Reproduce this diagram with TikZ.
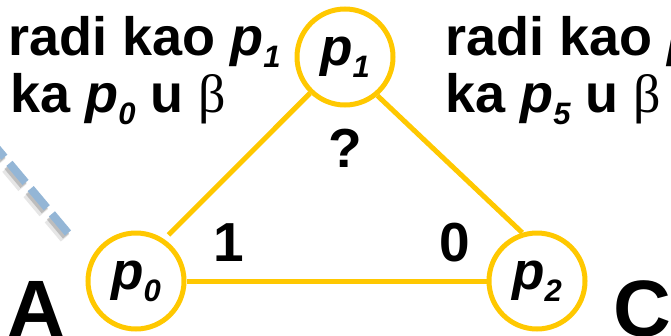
\documentclass[tikz,border=0pt]{standalone}
\usepackage{fontspec}
\setmainfont{Liberation Sans}
\newfontfamily\grckfont{Liberation Serif}
\usetikzlibrary{calc}
\definecolor{zuta}{RGB}{255,200,0}
\definecolor{plava}{RGB}{148,182,214}
\newcommand{\proc}[1]{\textit{p}\raisebox{-12pt}{\fontsize{31}{31}\selectfont\textit{#1}}}

\begin{document}
\begin{tikzpicture}[x=1pt,y=-1pt,
  proces/.style={circle,draw=zuta,line width=5pt,minimum size=96pt,inner sep=0pt,font=\fontsize{53}{53}\selectfont\bfseries},
  veza/.style={draw=zuta,line width=5pt},
  tekst/.style={anchor=base west,inner sep=0pt,font=\fontsize{54}{54}\selectfont\bfseries},
  oznaka/.style={inner sep=0pt,font=\fontsize{55}{55}\selectfont\bfseries},
  slovo/.style={anchor=base west,inner sep=0pt,font=\fontsize{80}{80}\selectfont\bfseries},
  crtkano/.style={line width=8pt, dash pattern=on 25pt off 8pt}]
            \useasboundingbox(0,0)rectangle(671,335);
            % dashed link
            \coordinate(d1)at(68,233);
            \coordinate(d0)at(-16,133);
            \path[draw=black!50, opacity=0.2, crtkano, line width=11pt]([shift={(-3,5)}]d1)to([shift={(-3,5)}]d0);
            \path[draw=black!55, opacity=0.35, crtkano]([shift={(-2,3)}]d1)to([shift={(-2,3)}]d0);
            \path[draw=plava, crtkano](d1)to(d0);
            % processes
            \node[proces](p1)at(345,57){\proc{1}};
            \node[proces](p0)at(136,281){\proc{0}};
            \node[proces](p2)at(537,281){\proc{2}};
            % links
            \path[veza, shorten <=6pt](p0.56)to(p1.226);
            \path[veza](p1.310)to(p2.107);
            \path[veza](p0)to(p2);
            % labels
            \node[oznaka](q)at(345,148){?};
            \node[oznaka](l1)at(229,243){1};
            \node[oznaka](l0)at(455,243){0};
            \node[tekst](t1)at(8,55){radi kao \proc{1}};
            \node[tekst](t2)at(10,112){ka \proc{0} u {\grckfont\mdseries β}};
            \node[tekst](t3)at(445,55){radi kao \proc{5}};
            \node[tekst](t4)at(445,112){ka \proc{5} u {\grckfont\mdseries β}};
            \node[slovo](A)at(7,336){A};
            \node[slovo](C)at(613,336){C};
\end{tikzpicture}
\end{document}
